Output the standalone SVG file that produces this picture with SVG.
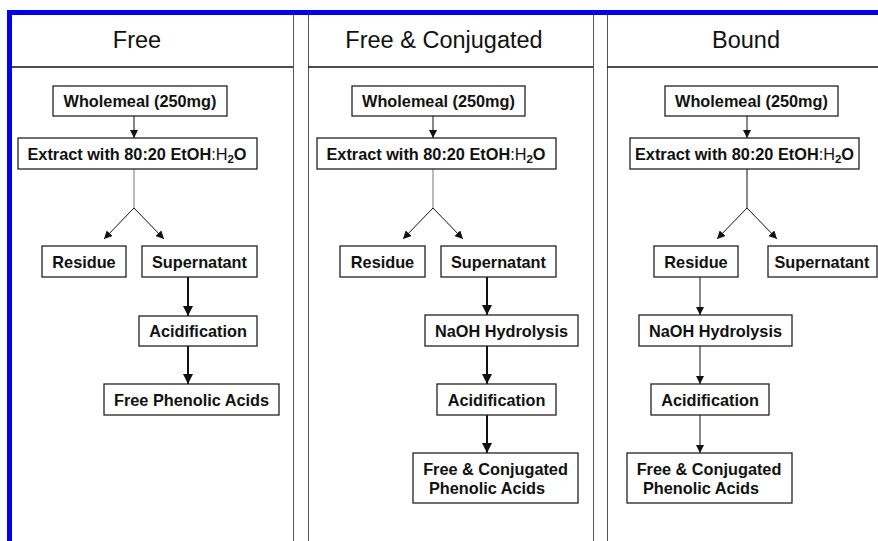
<svg xmlns="http://www.w3.org/2000/svg" width="878" height="541" viewBox="0 0 878 541">
<defs>
<style>
.hd{font-family:"Liberation Sans",Arial,sans-serif;font-size:23.5px;fill:#111;text-anchor:middle}
.bx{fill:#fff;stroke:#222;stroke-width:1.3}
.t{font-family:"Liberation Sans",Arial,sans-serif;font-size:16.3px;font-weight:bold;fill:#111;text-anchor:middle}
.tl{font-family:"Liberation Sans",Arial,sans-serif;font-size:16.3px;font-weight:bold;fill:#111}
.n{font-weight:normal}
.pl{stroke:#555;stroke-width:1;fill:none}
.hl{stroke:#111;stroke-width:1.6}
.c{stroke:#111;stroke-width:1;fill:none}
.cg{stroke:#777;stroke-width:1;fill:none}
.ck{stroke:#111;stroke-width:2;fill:none}
</style>
<marker id="ah" viewBox="0 0 10 10" refX="10" refY="5" markerWidth="8" markerHeight="8" markerUnits="userSpaceOnUse" orient="auto"><path d="M0,0 L10,5 L0,10 z" fill="#111"/></marker>
<marker id="ahk" viewBox="0 0 10 10" refX="10" refY="5" markerWidth="5" markerHeight="5" markerUnits="strokeWidth" orient="auto"><path d="M0,0 L10,5 L0,10 z" fill="#111"/></marker>
</defs>
<rect width="878" height="541" fill="#fff"/>
<g id="frame">
<line x1="293.5" y1="14" x2="293.5" y2="541" class="pl"/>
<line x1="308.5" y1="14" x2="308.5" y2="541" class="pl"/>
<line x1="593.5" y1="14" x2="593.5" y2="541" class="pl"/>
<line x1="607.5" y1="14" x2="607.5" y2="541" class="pl"/>
<line x1="12" y1="67" x2="293" y2="67" class="hl"/>
<line x1="308" y1="67" x2="593" y2="67" class="hl"/>
<line x1="607" y1="67" x2="878" y2="67" class="hl"/>
<path d="M9.5,545 V12.5 H882" fill="none" stroke="#0000ee" stroke-width="5"/>
</g>
<g id="headers">
<text x="137" y="48" class="hd">Free</text>
<text x="444" y="48" class="hd">Free &amp; Conjugated</text>
<text x="746" y="48" class="hd">Bound</text>
</g>
<g id="connectors">
<line x1="134" y1="116" x2="134" y2="138" class="c" marker-end="url(#ah)"/>
<polyline points="134,169 134,208" class="cg"/>
<line x1="134" y1="208" x2="104" y2="239" class="c" marker-end="url(#ah)"/>
<line x1="134" y1="208" x2="164" y2="239" class="c" marker-end="url(#ah)"/>
<line x1="188" y1="277" x2="188" y2="316" class="ck" marker-end="url(#ahk)"/>
<line x1="188" y1="346" x2="188" y2="384" class="ck" marker-end="url(#ahk)"/>

<line x1="433" y1="116" x2="433" y2="138" class="c" marker-end="url(#ah)"/>
<polyline points="433,169 433,208" class="cg"/>
<line x1="433" y1="208" x2="403" y2="239" class="c" marker-end="url(#ah)"/>
<line x1="433" y1="208" x2="463" y2="239" class="c" marker-end="url(#ah)"/>
<line x1="487" y1="277" x2="487" y2="315" class="ck" marker-end="url(#ahk)"/>
<line x1="487" y1="346" x2="487" y2="384" class="ck" marker-end="url(#ahk)"/>
<line x1="487" y1="415" x2="487" y2="453" class="ck" marker-end="url(#ahk)"/>

<line x1="747" y1="116" x2="747" y2="138" class="c" marker-end="url(#ah)"/>
<polyline points="747,169 747,208" class="c"/>
<line x1="747" y1="208" x2="717" y2="239" class="c" marker-end="url(#ah)"/>
<line x1="747" y1="208" x2="777" y2="239" class="c" marker-end="url(#ah)"/>
<line x1="700" y1="277" x2="700" y2="315" class="c" marker-end="url(#ah)"/>
<line x1="700" y1="346" x2="700" y2="384" class="c" marker-end="url(#ah)"/>
<line x1="700" y1="415" x2="700" y2="453" class="c" marker-end="url(#ah)"/>
</g>
<g id="p1-wholemeal"><rect x="53" y="86" width="174" height="30" class="bx"/><text x="140" y="107" class="t">Wholemeal (250mg)</text></g>
<g id="p1-extract"><rect x="18" y="138" width="239" height="31" class="bx"/><text x="137" y="160" class="t">Extract with 80:20 EtOH<tspan class="n">:H</tspan><tspan font-size="11.5" dy="3">2</tspan><tspan dy="-3">O</tspan></text></g>
<g id="p1-residue"><rect x="42" y="246" width="84" height="31" class="bx"/><text x="84" y="268" class="t">Residue</text></g>
<g id="p1-supernatant"><rect x="142" y="246" width="115" height="31" class="bx"/><text x="199.5" y="268" class="t">Supernatant</text></g>
<g id="p1-acidification"><rect x="139" y="316" width="118" height="30" class="bx"/><text x="198" y="337" class="t">Acidification</text></g>
<g id="p1-free-phenolic"><rect x="104" y="384" width="175" height="31" class="bx"/><text x="191.5" y="406" class="t">Free Phenolic Acids</text></g>

<g id="p2-wholemeal"><rect x="352" y="86" width="173" height="30" class="bx"/><text x="438.5" y="107" class="t">Wholemeal (250mg)</text></g>
<g id="p2-extract"><rect x="317" y="138" width="239" height="31" class="bx"/><text x="436" y="160" class="t">Extract with 80:20 EtOH<tspan class="n">:H</tspan><tspan font-size="11.5" dy="3">2</tspan><tspan dy="-3">O</tspan></text></g>
<g id="p2-residue"><rect x="340" y="246" width="85" height="31" class="bx"/><text x="382.5" y="268" class="t">Residue</text></g>
<g id="p2-supernatant"><rect x="441" y="246" width="115" height="31" class="bx"/><text x="498.5" y="268" class="t">Supernatant</text></g>
<g id="p2-naoh"><rect x="425" y="315" width="153" height="31" class="bx"/><text x="501.5" y="337" class="t">NaOH Hydrolysis</text></g>
<g id="p2-acidification"><rect x="437" y="384" width="119" height="31" class="bx"/><text x="496.5" y="406" class="t">Acidification</text></g>
<g id="p2-final"><rect x="413" y="453" width="165" height="50" class="bx"/><text x="495.5" y="475" class="t">Free &amp; Conjugated</text><text x="429" y="494" class="tl">Phenolic Acids</text></g>

<g id="p3-wholemeal"><rect x="665" y="86" width="173" height="30" class="bx"/><text x="751.5" y="107" class="t">Wholemeal (250mg)</text></g>
<g id="p3-extract"><rect x="630" y="138" width="229" height="31" class="bx"/><text x="744.5" y="160" class="t">Extract with 80:20 EtOH<tspan class="n">:H</tspan><tspan font-size="11.5" dy="3">2</tspan><tspan dy="-3">O</tspan></text></g>
<g id="p3-residue"><rect x="654" y="246" width="84" height="31" class="bx"/><text x="696" y="268" class="t">Residue</text></g>
<g id="p3-supernatant"><rect x="768" y="246" width="109" height="31" class="bx"/><text x="822" y="268" class="t">Supernatant</text></g>
<g id="p3-naoh"><rect x="639" y="315" width="153" height="31" class="bx"/><text x="715.5" y="337" class="t">NaOH Hydrolysis</text></g>
<g id="p3-acidification"><rect x="651" y="384" width="118" height="31" class="bx"/><text x="710" y="406" class="t">Acidification</text></g>
<g id="p3-final"><rect x="627" y="453" width="165" height="50" class="bx"/><text x="709" y="475" class="t">Free &amp; Conjugated</text><text x="643" y="494" class="tl">Phenolic Acids</text></g>
</svg>
